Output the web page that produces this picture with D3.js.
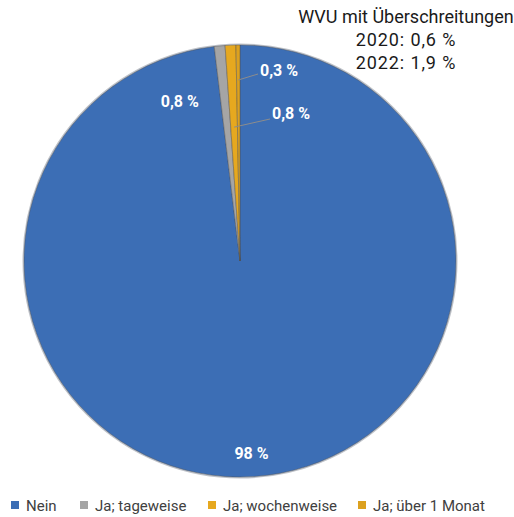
<!DOCTYPE html>
<html>
<head>
<meta charset="utf-8">
<script src="https://cdn.jsdelivr.net/npm/d3@7"></script>
<style>
  html, body { margin: 0; padding: 0; background: #fff; }
  svg { display: block; }
</style>
</head>
<body>
<svg id="chart" width="514" height="517"></svg>
<script>
// Share of water utilities (WVU) by duration of limit exceedances, in percent
const categories = ["Nein", "Ja; tageweise", "Ja; wochenweise", "Ja; über 1 Monat"];
const values = [98, 0.8, 0.8, 0.3];
const colors = ["#3c6eb5", "#a5a5a5", "#e6a81f", "#dca11f"];
const titleLines = ["WVU mit Überschreitungen", "2020: 0,6 %", "2022: 1,9 %"];

const fmt = v => String(v).replace(".", ",") + " %";
const font = "'Liberation Sans Narrow', 'Roboto', 'Liberation Sans', sans-serif";

const svg = d3.select("#chart");
const cx = 240, cy = 261, R = 216;

const data = categories.map((c, i) => ({ cat: c, value: values[i], color: colors[i] }));
const pie = d3.pie().value(d => d.value).sort(null).startAngle(0).endAngle(2 * Math.PI);
const arcs = pie(data);
const arc = d3.arc().innerRadius(0).outerRadius(R);

const g = svg.append("g").attr("transform", `translate(${cx},${cy})`);

// soft rim around the pie
g.append("circle").attr("r", R + 0.5)
  .attr("fill", "none").attr("stroke", "rgba(70,80,100,0.35)").attr("stroke-width", 2);

g.selectAll("path.slice").data(arcs).join("path")
  .attr("class", "slice")
  .attr("d", arc)
  .attr("fill", d => d.data.color)
  .attr("stroke", "rgba(80,80,80,0.55)")
  .attr("stroke-width", 0.8)
  .attr("stroke-linejoin", "round");

// point on a slice at a given radius (angle measured clockwise from 12 o'clock)
function pt(a, r) { return [r * Math.sin(a), -r * Math.cos(a)]; }
const mid = d => (d.startAngle + d.endAngle) / 2;

const labelStyle = sel => sel
  .attr("fill", "#fff").attr("font-family", font).attr("font-weight", "bold")
  .attr("font-size", 16);

// 98 % label inside the large slice
const big = arcs[0];
const pb = pt(mid(big), 192);
g.append("text").call(labelStyle)
  .attr("x", pb[0]).attr("y", pb[1] + 6).attr("text-anchor", "middle")
  .text(fmt(big.data.value));

// tageweise label, left of its slice
const pg = pt(mid(arcs[1]), 172);
g.append("text").call(labelStyle)
  .attr("x", pg[0] - 44).attr("y", pg[1] + 17).attr("text-anchor", "middle")
  .text(fmt(arcs[1].data.value));

// wochenweise label with leader line
const pw = pt(mid(arcs[2]), 134);
g.append("polyline")
  .attr("points", [pw, [30, -142]].map(p => p.join(",")).join(" "))
  .attr("fill", "none").attr("stroke", "#8c8c8c").attr("stroke-width", 1);
g.append("text").call(labelStyle)
  .attr("x", 32).attr("y", -142).attr("text-anchor", "start")
  .text(fmt(arcs[2].data.value));

// über 1 Monat label with leader line
const pm = pt(mid(arcs[3]), 181);
g.append("polyline")
  .attr("points", [pm, [18, -187]].map(p => p.join(",")).join(" "))
  .attr("fill", "none").attr("stroke", "#8c8c8c").attr("stroke-width", 1);
g.append("text").call(labelStyle)
  .attr("x", 20).attr("y", -185).attr("text-anchor", "start")
  .text(fmt(arcs[3].data.value));

// annotation in the upper right corner
svg.append("g").selectAll("text").data(titleLines).join("text")
  .attr("x", 406).attr("y", (d, i) => 23 + i * 23)
  .attr("text-anchor", "middle")
  .attr("letter-spacing", (d, i) => i === 0 ? 0 : 0.9)
  .attr("font-family", font).attr("font-size", 18).attr("fill", "#1a1a1a")
  .text(d => d);

// legend along the bottom
const legendX = [11, 80, 208, 358];
const lg = svg.append("g").selectAll("g").data(data).join("g")
  .attr("transform", (d, i) => `translate(${legendX[i]},506)`);
lg.append("rect").attr("x", 0).attr("y", -5).attr("width", 8).attr("height", 8)
  .attr("fill", d => d.color);
lg.append("text").attr("x", 15).attr("y", 5)
  .attr("font-family", font).attr("font-size", 15).attr("fill", "#404040")
  .text(d => d.cat);
</script>
</body>
</html>
